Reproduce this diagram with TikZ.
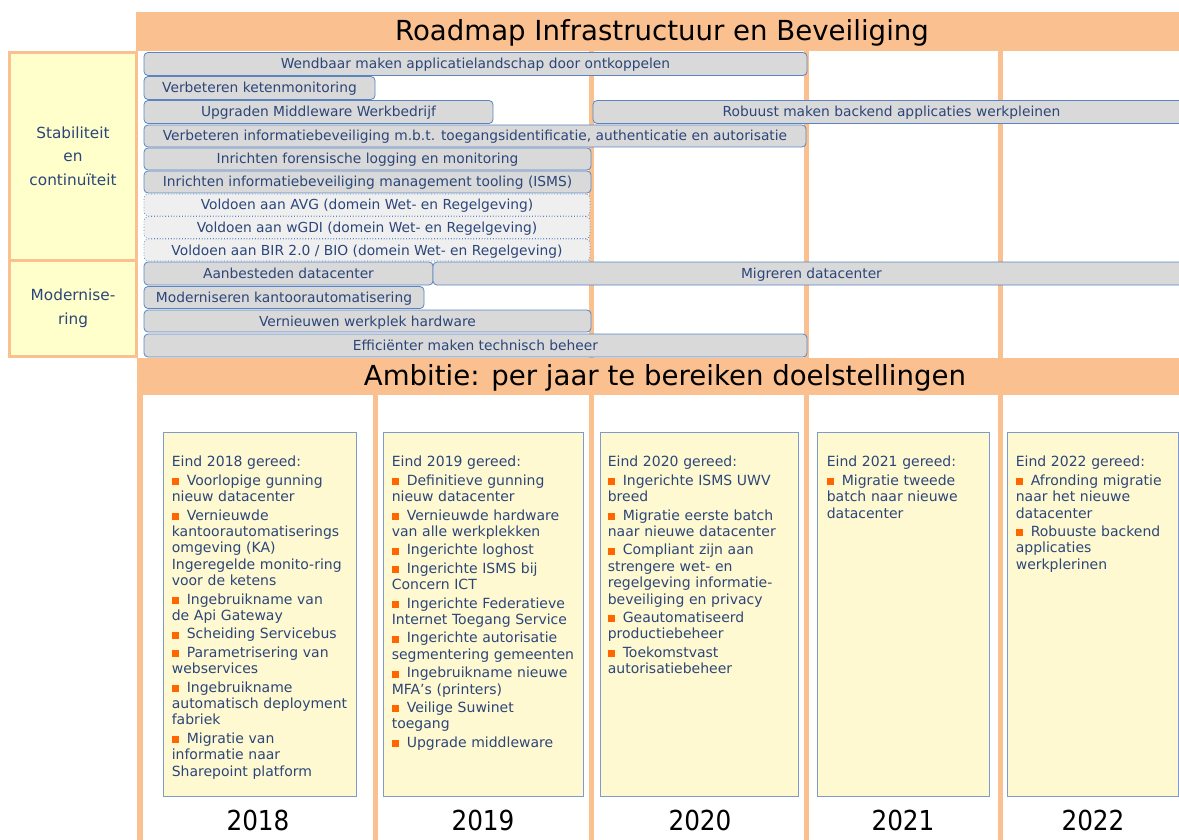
\documentclass[tikz,border=0pt]{standalone}
\usepackage{fontspec}
\setmainfont{DejaVu Sans}
\newfontfamily\condfont{DejaVu Sans Condensed}
\definecolor{orng}{HTML}{FAC090}
\definecolor{labfill}{HTML}{FFFFCC}
\definecolor{boxfill}{HTML}{FFF9D1}
\definecolor{boxline}{HTML}{7F9BCB}
\definecolor{barfill}{HTML}{D9D9D9}
\definecolor{barfilltwo}{HTML}{EFEFEF}
\definecolor{barline}{HTML}{5A84C0}
\definecolor{txtblue}{HTML}{2C4679}
\definecolor{bulor}{HTML}{FF6600}
\newcommand\bq{{\color{bulor}\rule{7pt}{7pt}}\hspace{8pt}}
\begin{document}
\begin{tikzpicture}[x=1pt,y=-1pt,
  vline/.style={draw=orng, line width=5pt},
  band/.style={fill=orng, draw=none, inner sep=0, minimum height=39pt},
  bigtxt/.style={anchor=base, inner sep=0, text=black, font=\fontsize{27.6}{30}\selectfont},
  lab/.style={fill=labfill, draw=orng, line width=3pt, inner sep=0, align=center, text=txtblue, font=\fontsize{15.3}{23.5}\selectfont, minimum width=127pt},
  bar/.style={fill=barfill, draw=barline, line width=0.8pt, rounded corners=4pt, inner sep=0, text=txtblue, font=\fontsize{13.8}{16}\selectfont, text height=11pt, text depth=1pt},
  dbar/.style={bar, fill=barfilltwo, dotted},
  ybox/.style={fill=boxfill, draw=boxline, line width=0.8pt, inner sep=0, minimum height=364pt},
  ytext/.style={anchor=north west, inner sep=0, align=left, text width=186pt, text=txtblue, font=\fontsize{14}{16.4}\selectfont},
  year/.style={anchor=base, inner sep=0, text=black, font=\condfont\fontsize{27.5}{30}\selectfont}
]
\useasboundingbox (0,0) rectangle (1179,840);
% grid lines
\draw[vline] (591,51) -- (591,845);
\draw[vline] (806,51) -- (806,845);
\draw[vline] (1000,51) -- (1000,845);
\draw[vline, line width=6pt] (140,395) -- (140,845);
\draw[vline] (375,395) -- (375,845);
% bands
\node[band, minimum width=1054pt] (hdr) at (663,31.5) {};
\node[bigtxt] (title) at (662,40.5) {Roadmap Infrastructuur en Beveiliging};
\node[band, minimum width=1053pt, minimum height=37pt] (amb) at (663.5,376.5) {};
\node[bigtxt] (ambt) at (665,385) {Ambitie: per jaar te bereiken doelstellingen};
% labels
\node[lab, minimum height=207.5pt] (stab) at (73,156.25) {Stabiliteit\\en\\continuïteit};
\node[lab, minimum height=96.5pt] (mod) at (73,308.25) {Modernise-\\ring};
% bars
\node[bar, minimum width=663pt, minimum height=23pt] (r1) at (475.5,64) {Wendbaar maken applicatielandschap door ontkoppelen};
\node[bar, minimum width=231pt, minimum height=23pt] (r2) at (259.5,88) {Verbeteren ketenmonitoring};
\node[bar, minimum width=349pt, minimum height=23pt] (r3a) at (318.5,112) {Upgraden Middleware Werkbedrijf};
\node[bar, minimum width=597pt, minimum height=23pt] (r3b) at (891.5,112) {Robuust maken backend applicaties werkpleinen};
\node[bar, minimum width=662pt, minimum height=22pt] (r4) at (475,136) {Verbeteren informatiebeveiliging m.b.t. toegangsidentificatie, authenticatie en autorisatie};
\node[bar, minimum width=447pt, minimum height=22pt] (r5) at (367.5,159) {Inrichten forensische logging en monitoring};
\node[bar, minimum width=447pt, minimum height=22pt] (r6) at (367.5,182) {Inrichten informatiebeveiliging management tooling (ISMS)};
\node[dbar, minimum width=446pt, minimum height=22pt] (r7) at (367,205) {Voldoen aan AVG (domein Wet- en Regelgeving)};
\node[dbar, minimum width=446pt, minimum height=22pt] (r8) at (367,227.5) {Voldoen aan wGDI (domein Wet- en Regelgeving)};
\node[dbar, minimum width=446pt, minimum height=22pt] (r9) at (367,250) {Voldoen aan BIR 2.0 / BIO (domein Wet- en Regelgeving)};
\node[bar, minimum width=289pt, minimum height=23pt] (r10a) at (288.5,273.5) {Aanbesteden datacenter};
\node[bar, minimum width=757pt, minimum height=23pt] (r10b) at (811.5,273.5) {Migreren datacenter};
\node[bar, minimum width=280pt, minimum height=22pt] (r11) at (284,297.5) {Moderniseren kantoorautomatisering};
\node[bar, minimum width=447pt, minimum height=22pt] (r12) at (367.5,321) {Vernieuwen werkplek hardware};
\node[bar, minimum width=663pt, minimum height=23pt] (r13) at (475.5,345.5) {Efficiënter maken technisch beheer};
% year boxes
\node[ybox, minimum width=193pt] (b18) at (259.5,614) {};
\node[ybox, minimum width=200pt] (b19) at (483,614) {};
\node[ybox, minimum width=198pt] (b20) at (699,614) {};
\node[ybox, minimum width=172pt] (b21) at (903,614) {};
\node[ybox, minimum width=171pt] (b22) at (1092.5,614) {};
\node[ytext] (t18) at ([xshift=9pt,yshift=-24.4pt]b18.north west) {Eind 2018 gereed:\\[2pt]
\bq Voorlopige gunning\\nieuw datacenter\\[2pt]
\bq Vernieuwde\\kantoorautomatiserings\\omgeving (KA)\\Ingeregelde monito-ring\\voor de ketens\\[2pt]
\bq Ingebruikname van\\de Api Gateway\\[2pt]
\bq Scheiding Servicebus\\[2pt]
\bq Parametrisering van\\webservices\\[2pt]
\bq Ingebruikname\\automatisch deployment\\fabriek\\[2pt]
\bq Migratie van\\informatie naar\\Sharepoint platform};
\node[ytext] (t19) at ([xshift=9pt,yshift=-24.4pt]b19.north west) {Eind 2019 gereed:\\[2pt]
\bq Definitieve gunning\\nieuw datacenter\\[2pt]
\bq Vernieuwde hardware\\van alle werkplekken\\[2pt]
\bq Ingerichte loghost\\[2pt]
\bq Ingerichte ISMS bij\\Concern ICT\\[2pt]
\bq Ingerichte Federatieve\\Internet Toegang Service\\[2pt]
\bq Ingerichte autorisatie\\segmentering gemeenten\\[2pt]
\bq Ingebruikname nieuwe\\MFA’s (printers)\\[2pt]
\bq Veilige Suwinet\\toegang\\[2pt]
\bq Upgrade middleware};
\node[ytext] (t20) at ([xshift=8pt,yshift=-24.4pt]b20.north west) {Eind 2020 gereed:\\[2pt]
\bq Ingerichte ISMS UWV\\breed\\[2pt]
\bq Migratie eerste batch\\naar nieuwe datacenter\\[2pt]
\bq Compliant zijn aan\\strengere wet- en\\regelgeving informatie-\\beveiliging en privacy\\[2pt]
\bq Geautomatiseerd\\productiebeheer\\[2pt]
\bq Toekomstvast\\autorisatiebeheer};
\node[ytext] (t21) at ([xshift=10pt,yshift=-24.4pt]b21.north west) {Eind 2021 gereed:\\[2pt]
\bq Migratie tweede\\batch naar nieuwe\\datacenter};
\node[ytext] (t22) at ([xshift=9pt,yshift=-24.4pt]b22.north west) {Eind 2022 gereed:\\[2pt]
\bq Afronding migratie\\naar het nieuwe\\datacenter\\[2pt]
\bq Robuuste backend\\applicaties\\werkplerinen};
% years
\node[year] (y18) at (258,830) {2018};
\node[year] (y19) at (483,830) {2019};
\node[year] (y20) at (700,830) {2020};
\node[year] (y21) at (903,830) {2021};
\node[year] (y22) at (1093,830) {2022};
\end{tikzpicture}
\end{document}
